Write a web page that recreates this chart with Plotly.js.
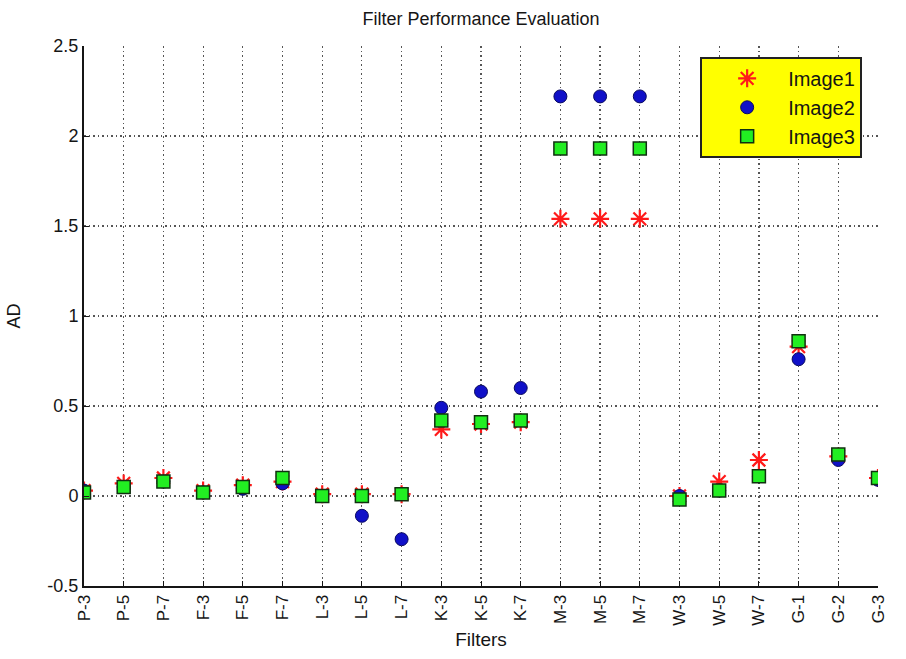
<!DOCTYPE html>
<html>
<head>
<meta charset="utf-8">
<script src="https://cdn.plot.ly/plotly-3.0.1.min.js"></script>
<style>
  html, body { margin: 0; padding: 0; background: #ffffff; }
  #chart { width: 906px; height: 659px; }
</style>
</head>
<body>
<div id="chart"></div>
<script>
// Filter names along the x axis
const filters = ["P-3","P-5","P-7","F-3","F-5","F-7","L-3","L-5","L-7",
                 "K-3","K-5","K-7","M-3","M-5","M-7","W-3","W-5","W-7",
                 "G-1","G-2","G-3"];

// AD values for each test image
const image1 = [0.03, 0.07, 0.10, 0.03, 0.06, 0.08, 0.01, 0.01, 0.01,
                0.37, 0.40, 0.41, 1.54, 1.54, 1.54, 0.00, 0.08, 0.20,
                0.83, 0.22, 0.10];
const image2 = [0.03, 0.05, 0.08, 0.02, 0.04, 0.07, 0.00, -0.11, -0.24,
                0.49, 0.58, 0.60, 2.22, 2.22, 2.22, 0.00, 0.03, 0.11,
                0.76, 0.20, 0.09];
const image3 = [0.02, 0.05, 0.08, 0.02, 0.05, 0.10, 0.00, 0.00, 0.01,
                0.42, 0.41, 0.42, 1.93, 1.93, 1.93, -0.02, 0.03, 0.11,
                0.86, 0.23, 0.10];

const yTicks = [-0.5, 0, 0.5, 1, 1.5, 2, 2.5];

const font = "Liberation Sans, Arial, sans-serif";
const ink = "#151515";
const gridDash = "1.5px,3px";

const traces = [
  {
    x: filters, y: image1, name: "Image1",
    type: "scatter", mode: "markers",
    marker: { symbol: "asterisk-open", size: 15, color: "#ff1a1a",
              line: { color: "#ff1a1a", width: 2.2 } }
  },
  {
    x: filters, y: image2, name: "Image2",
    type: "scatter", mode: "markers",
    marker: { symbol: "circle", size: 13, color: "#1010c8",
              line: { color: "#0a0a60", width: 1 } }
  },
  {
    x: filters, y: image3, name: "Image3",
    type: "scatter", mode: "markers",
    marker: { symbol: "square", size: 13, color: "#22ee22",
              line: { color: "#103010", width: 1.5 } }
  }
];

const layout = {
  width: 906, height: 659,
  margin: { l: 84, r: 28, t: 46, b: 73 },
  paper_bgcolor: "#ffffff",
  plot_bgcolor: "#ffffff",
  font: { family: font, color: ink },
  showlegend: true,
  title: {
    text: "Filter Performance Evaluation",
    font: { family: font, size: 18, color: ink },
    x: 0.531, xanchor: "center", y: 0.972, yanchor: "middle"
  },
  xaxis: {
    type: "category",
    range: [0, filters.length - 1],
    tickangle: -90,
    tickfont: { family: font, size: 17, color: ink },
    ticks: "inside", ticklen: 5, tickcolor: ink,
    showgrid: true, gridcolor: "#555555", griddash: gridDash, gridwidth: 1.2,
    showline: true, linecolor: ink, linewidth: 2,
    zeroline: false,
    title: { text: "Filters", font: { family: font, size: 19, color: ink }, standoff: 8 }
  },
  yaxis: {
    range: [-0.5, 2.5],
    tickvals: yTicks,
    ticktext: yTicks.map(v => String(v)),
    tickfont: { family: font, size: 18, color: ink },
    ticks: "inside", ticklen: 5, tickcolor: ink,
    showgrid: true, gridcolor: "#555555", griddash: gridDash, gridwidth: 1.2,
    showline: true, linecolor: ink, linewidth: 2,
    zeroline: false,
    title: { text: "AD", font: { family: font, size: 18, color: ink }, standoff: 22 }
  },
  legend: {
    x: 0.776, y: 0.98, xanchor: "left", yanchor: "top",
    bgcolor: "#ffff00", bordercolor: "#222222", borderwidth: 2,
    font: { family: font, size: 20, color: ink },
    itemwidth: 72,
    indentation: 4
  }
};

Plotly.newPlot("chart", traces, layout, { displayModeBar: false, staticPlot: true });
</script>
</body>
</html>
